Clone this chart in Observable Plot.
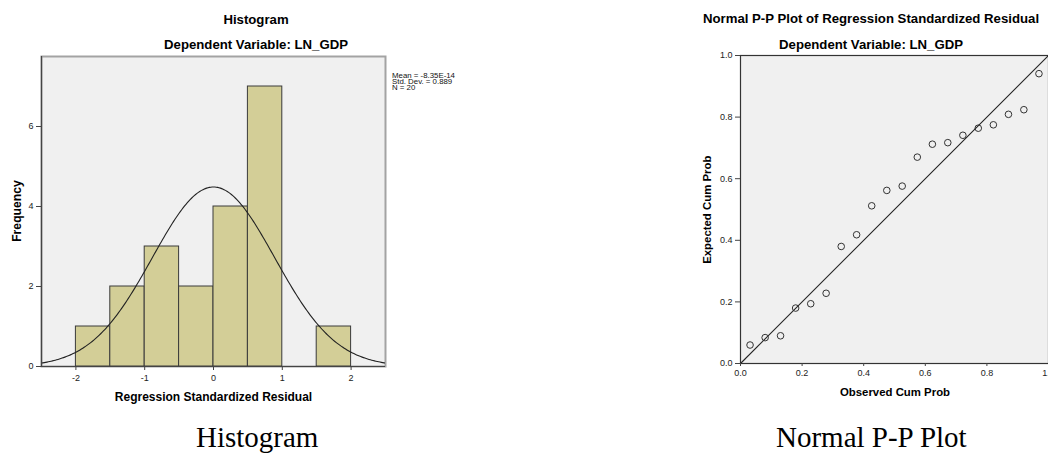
<!DOCTYPE html>
<html><head><meta charset="utf-8">
<script src="https://cdn.jsdelivr.net/npm/d3@7"></script>
<script src="https://cdn.jsdelivr.net/npm/@observablehq/plot@0.6"></script>
<style>
body{margin:0;background:#fff;}
#wrap{position:relative;width:1048px;height:454px;overflow:hidden;font-family:"Liberation Sans",Arial,sans-serif;color:#000;}
.abs{position:absolute;white-space:nowrap;}
.hold{position:absolute;}
.t{font-weight:bold;font-size:13.2px;line-height:13.2px;}
.cap{font-family:"Liberation Serif","Times New Roman",serif;font-size:29px;line-height:29px;}
</style></head><body><div id="wrap"></div>
<script>
// ---- Histogram data ----
const binStart = [-2, -1.5, -1, -0.5, 0, 0.5, 1, 1.5];
const binEnd   = [-1.5, -1, -0.5, 0, 0.5, 1, 1.5, 2];
const frequency = [1, 2, 3, 2, 4, 7, 0, 1];
const histMean = -8.35e-14, histSD = 0.889, histN = 20;
const histXTicks = [-2, -1, 0, 1, 2];
const histYTicks = [0, 2, 4, 6];

// ---- P-P plot data ----
const observedCum = [0.031,0.080,0.130,0.179,0.228,0.278,0.327,0.377,0.426,0.475,0.525,0.574,0.623,0.673,0.722,0.772,0.821,0.870,0.920,0.969];
const expectedCum = [0.060,0.084,0.090,0.180,0.194,0.228,0.380,0.418,0.512,0.562,0.576,0.670,0.712,0.717,0.741,0.764,0.775,0.809,0.824,0.941];
const ppTicks = [0, 0.2, 0.4, 0.6, 0.8, 1];
const diagonal = [{x: 0, y: 0}, {x: 1, y: 1}];

const wrap = document.getElementById("wrap");
function addText(txt, cls, css) {
  const d = document.createElement("div");
  d.className = "abs " + cls;
  d.textContent = txt;
  Object.assign(d.style, css);
  wrap.appendChild(d);
  return d;
}
function place(svg, left, top) {
  const h = document.createElement("div");
  h.className = "hold";
  h.style.left = left + "px"; h.style.top = top + "px";
  h.appendChild(svg);
  wrap.appendChild(h);
}
const svgStyle = "background:transparent;max-width:none;overflow:visible;font-family:'Liberation Sans',Arial,sans-serif;";

// ---- Histogram ----
const bars = binStart.map((s, i) => ({x1: s, x2: binEnd[i], y: frequency[i]})).filter(d => d.y > 0);
const binW = binEnd[0] - binStart[0];
const curve = d3.range(-2.5, 2.5001, 0.02).map(x => ({
  x, y: histN * binW * Math.exp(-0.5 * ((x - histMean) / histSD) ** 2) / (histSD * Math.sqrt(2 * Math.PI))
}));

const hist = Plot.plot({
  width: 520, height: 454,
  marginLeft: 41, marginRight: 135, marginTop: 56, marginBottom: 88,
  style: svgStyle,
  x: {domain: [-2.5, 2.5], label: null},
  y: {domain: [0, 7.75], label: null},
  marks: [
    Plot.frame({fill: "#f0f0f0", stroke: "#a3a3a3", strokeWidth: 2}),
    Plot.rectY(bars, {x1: "x1", x2: "x2", y: "y", fill: "#d3ce97", stroke: "#3a3a3a", strokeWidth: 1}),
    Plot.line(curve, {x: "x", y: "y", stroke: "#222", strokeWidth: 1.1, clip: true}),
    Plot.ruleX([-2.5], {stroke: "#444", strokeWidth: 1.2}),
    Plot.ruleY([0], {stroke: "#444", strokeWidth: 1.2}),
    Plot.axisX(histXTicks, {tickSize: 4, tickPadding: 4, fontSize: 9, tickFormat: d => String(d), stroke: "#444", fill: "#222", label: null}),
    Plot.axisY(histYTicks, {tickSize: 5, tickPadding: 3, fontSize: 9, tickFormat: d => String(d), stroke: "#444", fill: "#222", label: null})
  ]
});
place(hist, 0, 0);

// ---- P-P plot ----
const pts = observedCum.map((o, i) => ({o, e: expectedCum[i]}));
const pp = Plot.plot({
  width: 460, height: 454,
  marginLeft: 140, marginRight: 12, marginTop: 55, marginBottom: 91,
  style: svgStyle,
  x: {domain: [0, 1], label: null},
  y: {domain: [0, 1], label: null},
  marks: [
    Plot.frame({fill: "#f0f0f0", stroke: "#333", strokeWidth: 1.2}),
    Plot.line(diagonal, {x: "x", y: "y", stroke: "#222", strokeWidth: 1.1}),
    Plot.dot(pts, {x: "o", y: "e", r: 3.3, stroke: "#333", strokeWidth: 1, fill: "none"}),
    Plot.axisX(ppTicks, {tickSize: 3, tickPadding: 3, fontSize: 9, tickFormat: d3.format(".1f"), stroke: "#444", fill: "#222", label: null}),
    Plot.axisY(ppTicks, {tickSize: 5, tickPadding: 3, fontSize: 9, tickFormat: d3.format(".1f"), stroke: "#444", fill: "#222", label: null})
  ]
});
place(pp, 600, 0);

// ---- Texts ----
function centered(txt, cls, cx, cy, fs, extra) {
  const d = addText(txt, cls, Object.assign({left: cx + "px", top: (cy - fs / 2) + "px", transform: "translateX(-50%)"}, extra || {}));
  return d;
}
centered("Histogram", "t", 256, 20, 13.2);
centered("Dependent Variable: LN_GDP", "t", 256, 45, 13.2);
centered("Normal P-P Plot of Regression Standardized Residual", "t", 871, 19, 13.2);
centered("Dependent Variable: LN_GDP", "t", 871, 45, 13.2);

centered("Regression Standardized Residual", "", 213.5, 397, 12, {fontWeight: "bold", fontSize: "12px", lineHeight: "12px"});
addText("Frequency", "", {left: "17px", top: "205px", fontWeight: "bold", fontSize: "12.2px", lineHeight: "12px", transform: "translate(-50%,0) rotate(-90deg)", transformOrigin: "50% 50%"});
centered("Observed Cum Prob", "", 895, 393, 11.4, {fontWeight: "bold", fontSize: "11.4px", lineHeight: "11.4px"});
addText("Expected Cum Prob", "", {left: "708px", top: "204px", fontWeight: "bold", fontSize: "11.4px", lineHeight: "11.4px", transform: "translate(-50%,0) rotate(-90deg)", transformOrigin: "50% 50%"});

addText("Mean = -8.35E-14\nStd. Dev. = 0.889\nN = 20", "", {left: "392px", top: "73px", fontSize: "7px", lineHeight: "6.2px", whiteSpace: "pre", color: "#111", transform: "scaleX(1.12)", transformOrigin: "0 0"});

addText("Histogram", "cap", {left: "196px", top: "423px"});
addText("Normal P-P Plot", "cap", {left: "776px", top: "423px"});
</script></body></html>
